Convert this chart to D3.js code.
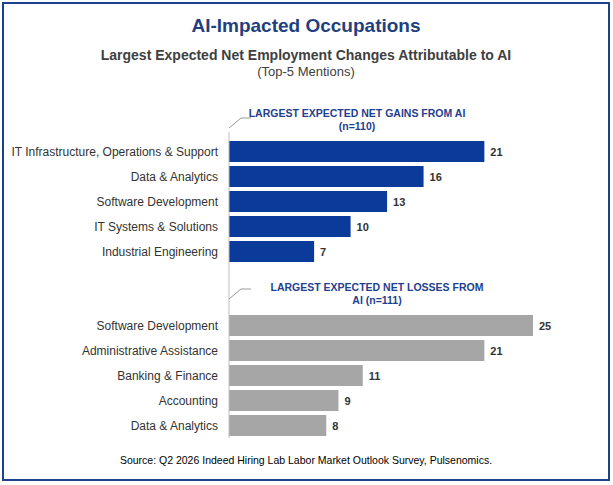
<!DOCTYPE html>
<html>
<head>
<meta charset="UTF-8">
<script src="https://cdn.jsdelivr.net/npm/d3@7"></script>
<style>
  body { margin: 0; background: #fff; font-family: Arial, "Liberation Sans", sans-serif; }
</style>
</head>
<body>
<svg id="chart" width="613" height="485"></svg>
<script>
// gains and losses, top-5 mentions
var gainLabels = ["IT Infrastructure, Operations & Support", "Data & Analytics", "Software Development", "IT Systems & Solutions", "Industrial Engineering"];
var gainValues = [21, 16, 13, 10, 7];
var lossLabels = ["Software Development", "Administrative Assistance", "Banking & Finance", "Accounting", "Data & Analytics"];
var lossValues = [25, 21, 11, 9, 8];

var svg = d3.select("#chart");
var blue = "#0a3a9a", gray = "#a6a6a6";

svg.append("rect").attr("x", 3).attr("y", 3).attr("width", 606).attr("height", 477)
   .attr("fill", "none").attr("stroke", "#1f3f8f").attr("stroke-width", 2);

svg.append("text").attr("x", 306).attr("y", 32).attr("text-anchor", "middle")
   .attr("font-size", 19).attr("font-weight", "bold").attr("fill", "#1f3f7f").text("AI-Impacted Occupations");
svg.append("text").attr("x", 306).attr("y", 60).attr("text-anchor", "middle")
   .attr("font-size", 14).attr("font-weight", "bold").attr("fill", "#404040").text("Largest Expected Net Employment Changes Attributable to AI");
svg.append("text").attr("x", 306).attr("y", 76).attr("text-anchor", "middle")
   .attr("font-size", 13).attr("fill", "#404040").text("(Top-5 Mentions)");

var x = d3.scaleLinear().domain([0, 25]).range([229, 533]);

function group(labels, values, y0, color) {
  var y = d3.scaleBand().domain(labels).range([y0, y0 + 125]).paddingInner(0.16).paddingOuter(0.08);
  var g = svg.append("g");
  var data = labels.map(function (d, i) { return {label: d, value: values[i]}; });
  g.selectAll("rect").data(data).enter().append("rect")
   .attr("x", x(0)).attr("y", function (d) { return y(d.label); })
   .attr("width", function (d) { return x(d.value) - x(0); })
   .attr("height", y.bandwidth()).attr("fill", color);
  g.selectAll("text.v").data(data).enter().append("text")
   .attr("x", function (d) { return x(d.value) + 6; })
   .attr("y", function (d) { return y(d.label) + y.bandwidth() / 2 + 4; })
   .attr("font-size", 11).attr("font-weight", "bold").attr("fill", "#333").text(function (d) { return d.value; });
  g.selectAll("text.l").data(data).enter().append("text")
   .attr("x", 218).attr("y", function (d) { return y(d.label) + y.bandwidth() / 2 + 4; })
   .attr("text-anchor", "end").attr("font-size", 12).attr("fill", "#333").text(function (d) { return d.label; });
}
group(gainLabels, gainValues, 139, blue);
group(lossLabels, lossValues, 313, gray);

svg.append("line").attr("x1", x(0)).attr("x2", x(0)).attr("y1", 132).attr("y2", 438)
   .attr("stroke", "#bfbfbf");

function note(lines, cx, y, lx, ly) {
  lines.forEach(function (t, i) {
    svg.append("text").attr("x", cx).attr("y", y + i * 13).attr("text-anchor", "middle")
       .attr("font-size", 10.5).attr("font-weight", "bold").attr("fill", "#1f3f8f").text(t);
  });
  svg.append("path").attr("d", "M" + lx + "," + (ly + 10) + "L" + (lx + 12) + "," + ly + "L" + (lx + 22) + "," + ly)
     .attr("fill", "none").attr("stroke", "#999");
}
note(["LARGEST EXPECTED NET GAINS FROM AI", "(n=110)"], 357, 117, 229, 118);
note(["LARGEST EXPECTED NET LOSSES FROM", "AI  (n=111)"], 377, 291, 229, 289);

svg.append("text").attr("x", 306).attr("y", 464).attr("text-anchor", "middle")
   .attr("font-size", 10.5).attr("fill", "#000").text("Source: Q2 2026 Indeed Hiring Lab Labor Market Outlook Survey, Pulsenomics.");
</script>
</body>
</html>
